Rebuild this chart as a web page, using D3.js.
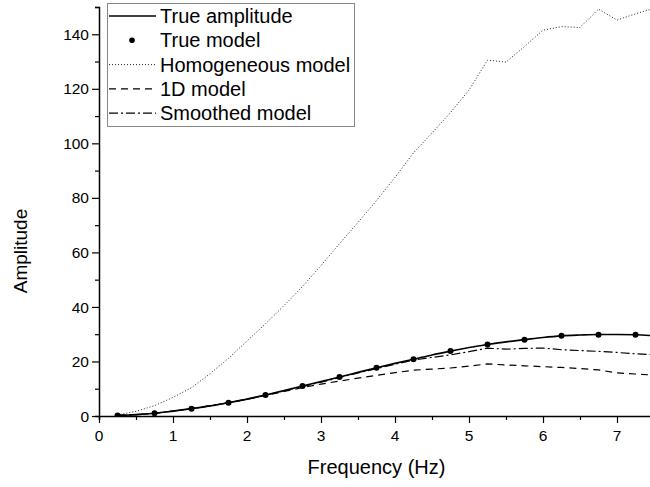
<!DOCTYPE html>
<html>
<head>
<meta charset="utf-8">
<script src="https://cdn.jsdelivr.net/npm/d3@7"></script>
<style>
  html, body { margin: 0; padding: 0; background: #fff; }
  svg { display: block; font-family: "Liberation Sans", Arial, sans-serif; }
</style>
</head>
<body>
<svg id="chart" width="650" height="487"></svg>
<script>
// Frequencies (Hz) of the computed spectra
const freq = [0.25, 0.5, 0.75, 1.0, 1.25, 1.5, 1.75, 2.0, 2.25, 2.5, 2.75, 3.0, 3.25, 3.5, 3.75,
              4.0, 4.25, 4.5, 4.75, 5.0, 5.25, 5.5, 5.75, 6.0, 6.25, 6.5, 6.75, 7.0, 7.25, 7.5];

const trueAmplitude = [0.2, 0.5, 1.0, 1.8, 2.7, 3.7, 4.9, 6.2, 7.7, 9.3, 11.0, 12.6, 14.3, 16.0, 17.7,
                       19.3, 20.8, 22.4, 23.8, 25.1, 26.2, 27.2, 28.0, 28.8, 29.4, 29.7, 29.9, 29.9, 29.8, 29.4];

const homogeneousModel = [0.4, 1.7, 3.8, 6.8, 10.4, 15.5, 21.2, 27.5, 33.8, 40.5, 47.5, 55.2, 63.2, 71.0, 79.0,
                          87.5, 96.5, 103.8, 111.3, 119.5, 130.5, 129.8, 135.5, 141.5, 142.8, 142.5, 149.2, 145.2, 147.5, 149.5];

const oneDModel = [0.2, 0.5, 1.0, 1.8, 2.7, 3.7, 4.9, 6.1, 7.5, 9.0, 10.4, 11.7, 12.8, 13.9, 14.9,
                   15.9, 16.8, 17.2, 17.6, 18.3, 19.1, 18.7, 18.4, 18.1, 17.8, 17.4, 16.9, 15.8, 15.4, 15.0];

const smoothedModel = [0.2, 0.5, 1.0, 1.8, 2.7, 3.7, 4.9, 6.2, 7.6, 9.2, 10.8, 12.4, 14.1, 15.8, 17.4,
                       19.0, 20.5, 21.5, 22.4, 23.6, 24.9, 24.5, 24.8, 24.9, 24.3, 24.0, 23.7, 23.3, 22.8, 22.5];

// Discrete true-model samples
const trueModelFreq = [0.25, 0.75, 1.25, 1.75, 2.25, 2.75, 3.25, 3.75, 4.25, 4.75, 5.25, 5.75, 6.25, 6.75, 7.25];
const trueModel = [0.2, 1.0, 2.7, 4.9, 7.7, 11.0, 14.3, 17.7, 20.8, 23.8, 26.2, 28.0, 29.4, 29.8, 29.8];

const xMajorTicks = [0, 1, 2, 3, 4, 5, 6, 7];
const yMajorTicks = [0, 20, 40, 60, 80, 100, 120, 140];

const legendLabels = ["True amplitude", "True model", "Homogeneous model", "1D model", "Smoothed model"];

const svg = d3.select("#chart");

const x = d3.scaleLinear().domain([0, 7.5]).range([99, 654]);
const y = d3.scaleLinear().domain([0, 150]).range([416, 7]);

// Clip region for the curves
svg.append("defs").append("clipPath").attr("id", "plotClip")
  .append("rect")
  .attr("x", x(0)).attr("y", y(150))
  .attr("width", x(7.5) - x(0)).attr("height", y(0) - y(150));

// Axes
const tickFont = "15.5px";

const xAxis = svg.append("g").attr("transform", `translate(0,${y(0)})`);
xAxis.call(d3.axisBottom(x).tickValues(d3.range(0, 7.51, 0.5)).tickSize(4).tickFormat(""));
xAxis.call(g => g.selectAll(".tick line").filter(d => Number.isInteger(d)).attr("y2", 7));
xAxis.selectAll("text").remove();
xAxis.append("g").selectAll("text").data(xMajorTicks).join("text")
  .attr("x", d => x(d)).attr("y", 25)
  .attr("text-anchor", "middle").attr("fill", "#000")
  .style("font-size", tickFont).text(d => d);

const yAxis = svg.append("g").attr("transform", `translate(${x(0)},0)`);
yAxis.call(d3.axisLeft(y).tickValues(d3.range(0, 151, 10)).tickSize(4).tickFormat(""));
yAxis.call(g => g.selectAll(".tick line").filter(d => d % 20 === 0).attr("x2", -7));
yAxis.append("g").selectAll("text").data(yMajorTicks).join("text")
  .attr("x", -10).attr("y", d => y(d)).attr("dy", "0.36em")
  .attr("text-anchor", "end").attr("fill", "#000")
  .style("font-size", tickFont).text(d => d);

svg.selectAll(".domain").attr("stroke", "#000").attr("stroke-width", 1.5);
svg.selectAll(".tick line").attr("stroke", "#000").attr("stroke-width", 1.2);

// Axis titles
svg.append("text")
  .attr("x", (x(0) + x(7.5)) / 2).attr("y", 474)
  .attr("text-anchor", "middle").style("font-size", "20px")
  .text("Frequency (Hz)");

svg.append("text")
  .attr("transform", "translate(27,251) rotate(-90)")
  .attr("text-anchor", "middle").style("font-size", "19px")
  .text("Amplitude");

// Curves
const line = d3.line().x(d => x(d[0])).y(d => y(d[1]));
const series = (vals) => freq.map((f, i) => [f, vals[i]]);

const styles = {
  trueAmp: { stroke: "#000", width: 1.6, dash: null },
  homog:   { stroke: "#222", width: 1.0, dash: "1,2" },
  oneD:    { stroke: "#000", width: 1.2, dash: "7,5" },
  smooth:  { stroke: "#000", width: 1.2, dash: "9,3,2,3" }
};

const plot = svg.append("g").attr("clip-path", "url(#plotClip)");

function drawCurve(vals, st) {
  plot.append("path")
    .datum(series(vals))
    .attr("fill", "none")
    .attr("stroke", st.stroke)
    .attr("stroke-width", st.width)
    .attr("stroke-dasharray", st.dash)
    .attr("d", line.curve(d3.curveLinear));
}

drawCurve(homogeneousModel, styles.homog);
drawCurve(oneDModel, styles.oneD);
drawCurve(smoothedModel, styles.smooth);

plot.append("path")
  .datum(series(trueAmplitude))
  .attr("fill", "none")
  .attr("stroke", styles.trueAmp.stroke)
  .attr("stroke-width", styles.trueAmp.width)
  .attr("d", d3.line().x(d => x(d[0])).y(d => y(d[1])).curve(d3.curveMonotoneX));

plot.append("g").selectAll("circle")
  .data(trueModelFreq.map((f, i) => [f, trueModel[i]]))
  .join("circle")
  .attr("cx", d => x(d[0])).attr("cy", d => y(d[1]))
  .attr("r", 3).attr("fill", "#000");

// Legend
const legend = svg.append("g");
legend.append("rect")
  .attr("x", 107.5).attr("y", 3.5).attr("width", 247).attr("height", 123)
  .attr("fill", "#fff").attr("stroke", "#888").attr("stroke-width", 1);

const legendKeys = ["trueAmp", "dot", "homog", "oneD", "smooth"];
legendLabels.forEach((label, i) => {
  const cy = 16 + i * 24.3;
  const key = legendKeys[i];
  if (key === "dot") {
    legend.append("circle").attr("cx", 132).attr("cy", cy).attr("r", 2.8).attr("fill", "#000");
  } else {
    const st = styles[key];
    legend.append("line")
      .attr("x1", 109).attr("x2", 156).attr("y1", cy).attr("y2", cy)
      .attr("stroke", st.stroke).attr("stroke-width", st.width)
      .attr("stroke-dasharray", st.dash);
  }
  legend.append("text")
    .attr("x", 160).attr("y", cy).attr("dy", "0.35em")
    .style("font-size", "20px")
    .text(label);
});
</script>
</body>
</html>
